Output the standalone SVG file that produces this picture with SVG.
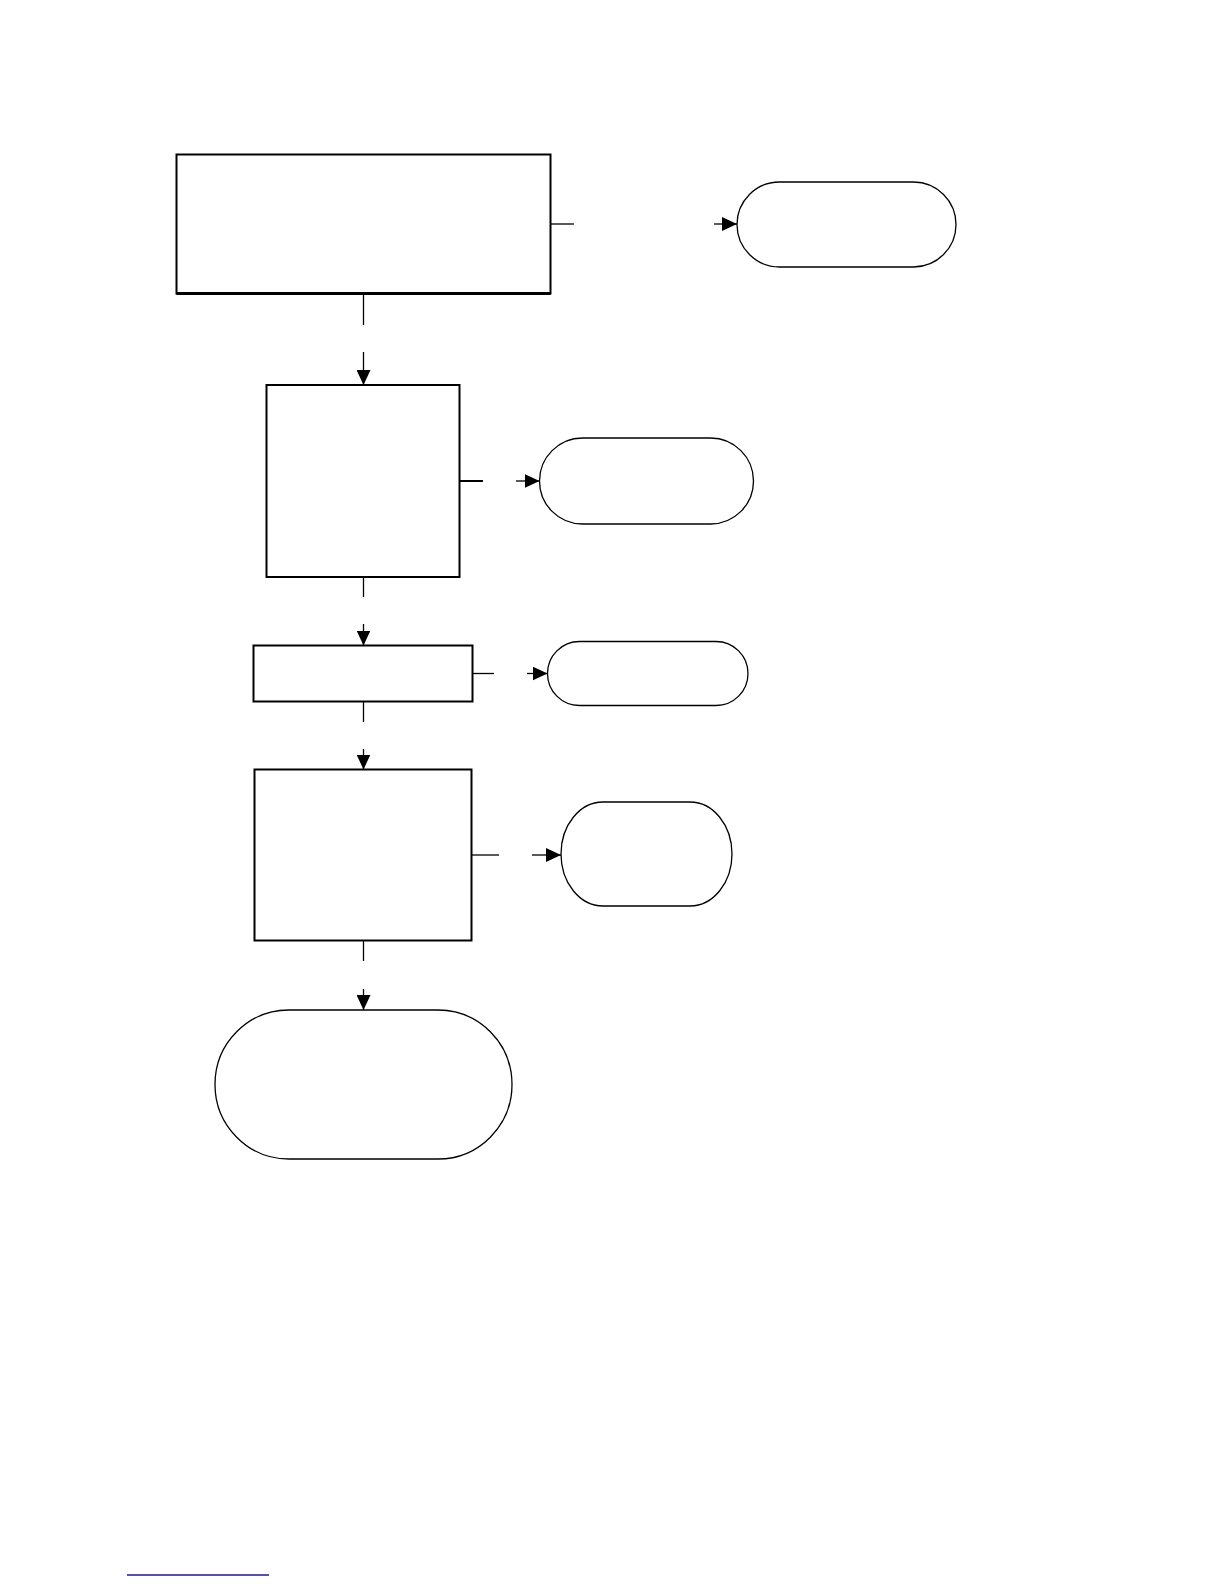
<svg xmlns="http://www.w3.org/2000/svg" width="1224" height="1584" viewBox="0 0 1224 1584">
<style>
.box{fill:#fff;stroke:#000;stroke-width:2}
.term{fill:#fff;stroke:#000;stroke-width:1.3}
.ln{fill:none;stroke:#000;stroke-width:1.3}
.ah{fill:none;stroke:#000;stroke-width:1.3;marker-end:url(#arr)}
</style>
<defs>
<marker id="arr" markerWidth="16" markerHeight="14" refX="15" refY="7" orient="auto" markerUnits="userSpaceOnUse">
<path d="M0,0 L15,7 L0,14 Z" fill="#000"/>
</marker>
</defs>
<rect width="1224" height="1584" fill="#fff"/>
<g id="connectors">
<line class="ln" x1="550" y1="224" x2="574" y2="224"/>
<line class="ah" x1="714" y1="224" x2="737" y2="224"/>
<line class="ln" x1="363.5" y1="294" x2="363.5" y2="325"/>
<line class="ah" x1="363.5" y1="352" x2="363.5" y2="385"/>
<line class="ln" x1="459" y1="481" x2="483" y2="481" style="stroke-width:2"/>
<line class="ah" x1="516" y1="481" x2="539.5" y2="481"/>
<line class="ln" x1="363.5" y1="577" x2="363.5" y2="597"/>
<line class="ah" x1="363.5" y1="624" x2="363.5" y2="645.5"/>
<line class="ln" x1="472" y1="673.5" x2="494" y2="673.5"/>
<line class="ah" x1="527" y1="673.5" x2="547.5" y2="673.5"/>
<line class="ln" x1="363.5" y1="701" x2="363.5" y2="722"/>
<line class="ah" x1="363.5" y1="749" x2="363.5" y2="769.5"/>
<line class="ln" x1="472" y1="855" x2="499" y2="855"/>
<line class="ah" x1="532" y1="855" x2="561" y2="855"/>
<line class="ln" x1="363.5" y1="941" x2="363.5" y2="961"/>
<line class="ah" x1="363.5" y1="989" x2="363.5" y2="1010"/>
</g>
<g id="node1"><rect class="box" x="176.5" y="154.5" width="374" height="139"/><line x1="176.5" y1="293.5" x2="550.5" y2="293.5" stroke="#000" stroke-width="3"/></g>
<g id="term1"><rect class="term" x="737" y="182" width="219" height="85" rx="42.5" ry="42.5"/></g>
<g id="node2"><rect class="box" x="266.5" y="385" width="193" height="192"/></g>
<g id="term2"><rect class="term" x="539.5" y="438" width="214" height="86" rx="43" ry="43"/></g>
<g id="node3"><rect class="box" x="253.5" y="645.5" width="219" height="56"/></g>
<g id="term3"><rect class="term" x="547.5" y="641.5" width="200.5" height="64" rx="32" ry="32"/></g>
<g id="node4"><rect class="box" x="254.5" y="769.5" width="217" height="171"/></g>
<g id="term4"><rect class="term" x="561" y="802" width="171" height="104" rx="42" ry="52"/></g>
<g id="term5"><rect class="term" x="215" y="1010" width="297" height="149" rx="74" ry="74.5"/></g>
<line x1="127" y1="1575" x2="269" y2="1575" stroke="#1a1a8c" stroke-width="1.3"/>
</svg>
